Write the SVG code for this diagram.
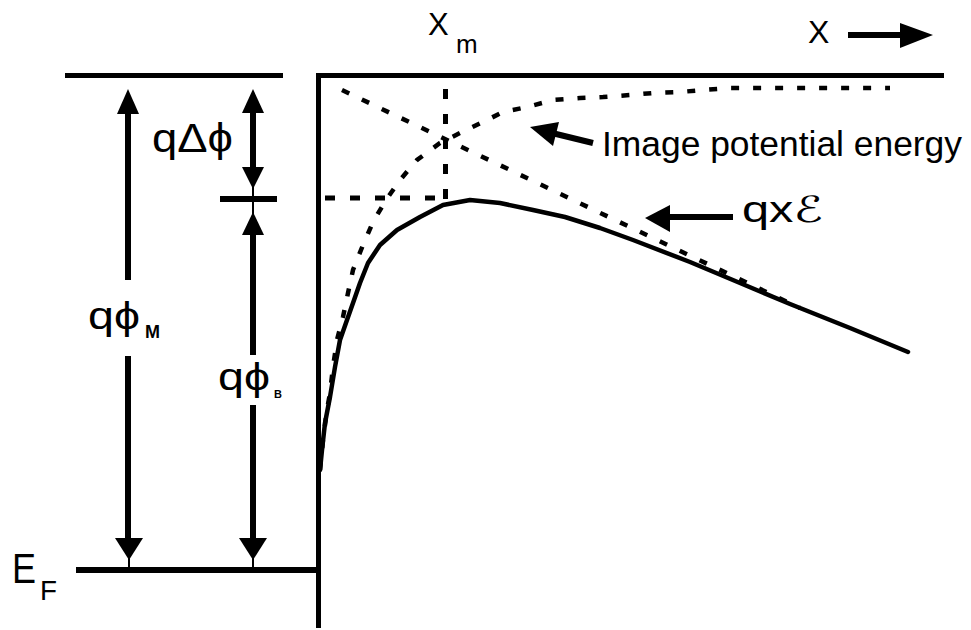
<svg xmlns="http://www.w3.org/2000/svg" width="971" height="630" viewBox="0 0 971 630">
<style>
  .ln{stroke:#000;stroke-width:5;fill:none;stroke-linecap:butt}
  .shaft{stroke:#000;stroke-width:6;fill:none}
  .thin{stroke:#000;stroke-width:2;fill:none}
  .head{fill:#000;stroke:none}
  .dash{stroke:#000;stroke-width:5;fill:none;stroke-dasharray:10 15}
  .dash2{stroke:#000;stroke-width:4.5;fill:none;stroke-dasharray:8 14}
  .curve{stroke:#000;stroke-width:4.5;fill:none;stroke-linejoin:round;stroke-linecap:round}
  .t{font-family:"Liberation Sans","DejaVu Sans",Arial,sans-serif;fill:#000}
</style>
<rect width="971" height="630" fill="#fff"/>

<g id="levels">
  <line class="ln" x1="65" y1="75.5" x2="283" y2="75.5"/>
  <line class="ln" x1="316" y1="75.5" x2="944" y2="75.5"/>
  <line class="ln" x1="318.5" y1="73" x2="318.5" y2="628"/>
  <line class="ln" x1="76" y1="570" x2="318" y2="570" style="stroke-width:6"/>
  <line class="ln" x1="220" y1="199" x2="277" y2="199" style="stroke-width:6"/>
</g>

<g id="potential-curves">
  <path id="barrier" class="curve" d="M320,470 L322,450 L325,423 L330,397 L335,367 L340,340 L347,320 L353,303 L360,283 L368,263 L380,245 L397,230 L420,217 L443,205 L470,200 L500,203 L533,210 L565,217 L600,228 L633,240 L690,262 L740,283 L790,304 L850,328 L908,352"/>
  <path id="image-potential" class="dash2" d="M320,470 L323,440 L327,410 L330,393 L333,367 L337,340 L343,317 L348,293 L353,270 L363,245 L373,222 L386,200 L400,180 L417,160 L440,143 L460,133 L487,120 L503,112 L527,107 L553,100 L580,98 L603,97 L630,95 L653,93 L680,92 L703,90 L730,88 L890,88"/>
  <line id="field-line" class="dash2" x1="342" y1="90" x2="800" y2="308"/>
  <line id="xm-line" class="dash" x1="445.5" y1="89" x2="445.5" y2="202"/>
  <line id="barrier-top" class="dash" x1="325" y1="198" x2="445" y2="198"/>
</g>

<g id="connectors">
  <line class="shaft" x1="128" y1="110" x2="128" y2="280"/>
  <line class="shaft" x1="128" y1="356" x2="128" y2="540"/>
  <line class="thin" x1="129" y1="555" x2="129" y2="568"/>
  <polygon class="head" points="128,89 139,114 117,114"/>
  <polygon class="head" points="129,560 143,538 115,538"/>
  <line class="shaft" x1="253" y1="110" x2="253" y2="170"/>
  <line class="thin" x1="253" y1="185" x2="253" y2="197"/>
  <polygon class="head" points="253,89 264,113 242,113"/>
  <polygon class="head" points="253,189 264,167 242,167"/>
  <line class="thin" x1="253" y1="201" x2="253" y2="214"/>
  <line class="shaft" x1="253" y1="232" x2="253" y2="355"/>
  <line class="shaft" x1="253" y1="405" x2="253" y2="540"/>
  <line class="thin" x1="253" y1="555" x2="253" y2="568"/>
  <polygon class="head" points="253,212 264,235 242,235"/>
  <polygon class="head" points="253,560 267,538 239,538"/>
  <line class="shaft" x1="848" y1="35" x2="903" y2="35"/>
  <polygon class="head" points="900,23 933,35 900,48"/>
  <line class="shaft" x1="593" y1="143" x2="552" y2="133"/>
  <polygon class="head" points="530,127 559,122 553,146"/>
  <line class="shaft" x1="733" y1="217" x2="666" y2="217"/>
  <polygon class="head" points="645,218 670,205 670,232"/>
</g>

<g id="labels">
  <text class="t" x="808" y="43" font-size="32">X</text>
  <text class="t" x="428" y="35" font-size="31">X</text>
  <text class="t" x="456" y="53" font-size="26">m</text>
  <text class="t" x="152" y="152" font-size="40" textLength="81" lengthAdjust="spacingAndGlyphs">qΔϕ</text>
  <text class="t" x="88" y="329" font-size="38" textLength="52" lengthAdjust="spacingAndGlyphs">qϕ</text>
  <text class="t" x="145" y="338" font-size="18" font-weight="bold">M</text>
  <text class="t" x="218" y="390" font-size="38" textLength="52" lengthAdjust="spacingAndGlyphs">qϕ</text>
  <text class="t" x="274" y="398" font-size="11" font-weight="bold">B</text>
  <text class="t" x="12" y="583" font-size="43" textLength="24" lengthAdjust="spacingAndGlyphs">E</text>
  <text class="t" x="40" y="600" font-size="28" textLength="17" lengthAdjust="spacingAndGlyphs">F</text>
  <text class="t" x="602" y="156" font-size="35.5" textLength="360" lengthAdjust="spacingAndGlyphs">Image potential energy</text>
  <text class="t" x="742" y="222" font-size="36" textLength="81" lengthAdjust="spacingAndGlyphs">qx<tspan font-family="'DejaVu Sans',sans-serif">ℰ</tspan></text>
</g>
</svg>
